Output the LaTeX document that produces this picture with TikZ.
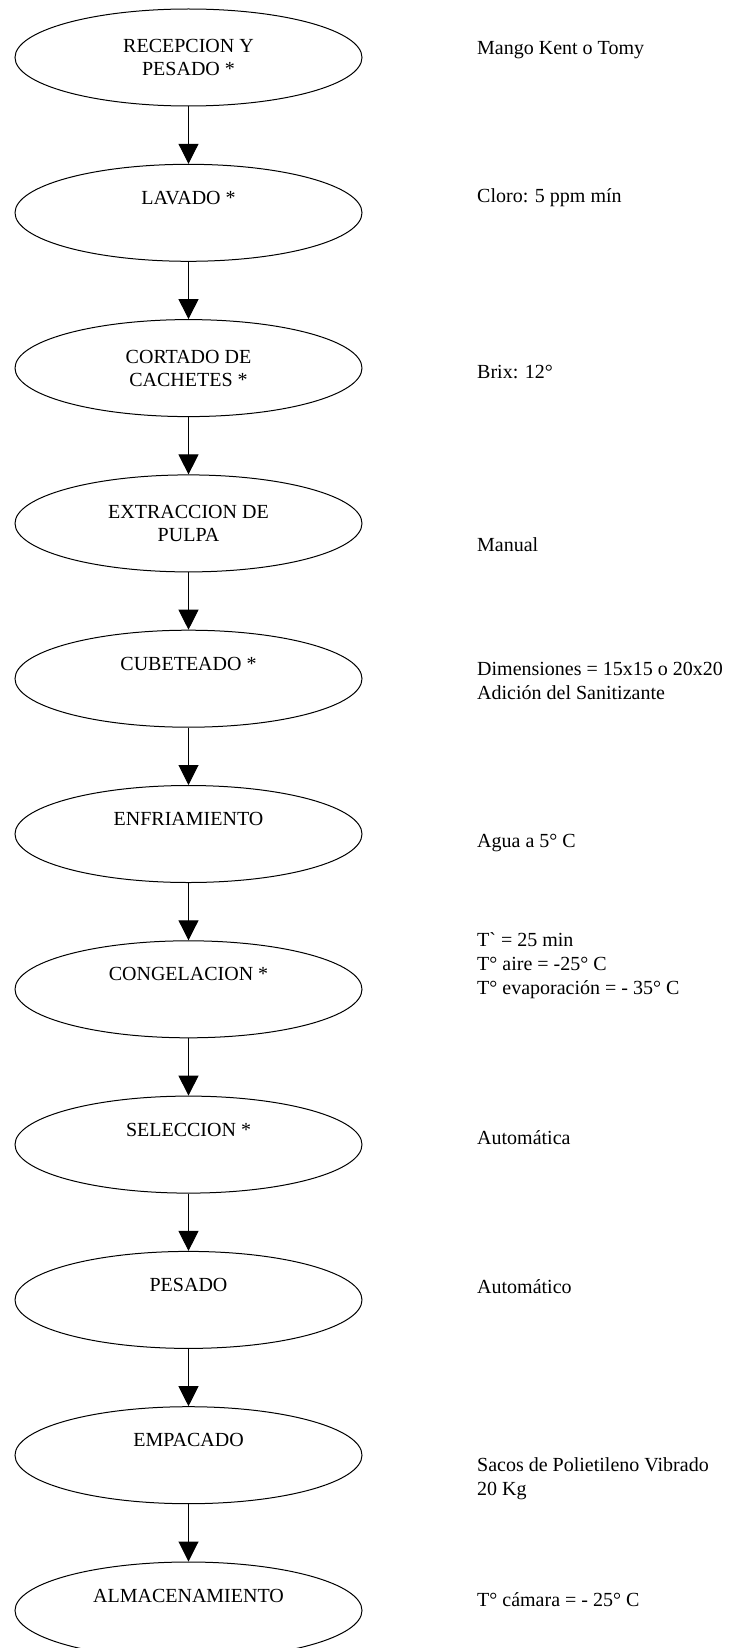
\documentclass[tikz,border=0pt]{standalone}
\usepackage{fontspec}
\setmainfont{Liberation Serif}
\usetikzlibrary{positioning,shapes.geometric,arrows.meta}

\begin{document}
\begin{tikzpicture}[x=1pt,y=1pt,
    node distance=57.3pt,
    stage/.style={ellipse,draw,line width=1pt,minimum width=347pt,minimum height=97pt,
        align=center,font=\fontsize{20}{23}\selectfont},
    note/.style={anchor=west,align=left,inner sep=0pt,font=\fontsize{20}{24}\selectfont},
    flow/.style={-{Triangle[width=20pt,length=20pt]},line width=1pt}]
\useasboundingbox (0,0) rectangle (744,-1648);

\node[stage] (recepcion) at (188.5,-57.5) {RECEPCION Y\\PESADO *};
\node[stage,below=of recepcion] (lavado) {LAVADO *\\\strut};
\node[stage,below=of lavado] (cortado) {CORTADO DE\\CACHETES *};
\node[stage,below=of cortado] (extraccion) {EXTRACCION DE\\PULPA};
\node[stage,below=of extraccion] (cubeteado) {CUBETEADO *\\\strut};
\node[stage,below=of cubeteado] (enfriamiento) {ENFRIAMIENTO\\\strut};
\node[stage,below=of enfriamiento] (congelacion) {CONGELACION *\\\strut};
\node[stage,below=of congelacion] (seleccion) {SELECCION *\\\strut};
\node[stage,below=of seleccion] (pesado) {PESADO\\\strut};
\node[stage,below=of pesado] (empacado) {EMPACADO\\\strut};
\node[stage,below=of empacado] (almacenamiento) {ALMACENAMIENTO\\\strut};

\foreach \from/\to in {recepcion/lavado,lavado/cortado,cortado/extraccion,
    extraccion/cubeteado,cubeteado/enfriamiento,enfriamiento/congelacion,
    congelacion/seleccion,seleccion/pesado,pesado/empacado,empacado/almacenamiento}
    \draw[flow] (\from.south) -- (\to.north);

\node[note] (variedad) at (477,-50) {Mango Kent o Tomy};
\node[note] (cloro) at (477,-198) {Cloro: 5 ppm mín};
\node[note] (brix) at (477,-372) {Brix: 12°};
\node[note] (manual) at (477,-545) {Manual};
\node[note] (dimensiones) at (477,-680.5) {Dimensiones = 15x15 o 20x20\\Adición del Sanitizante};
\node[note] (agua) at (477,-843) {Agua a 5° C};
\node[note] (tiempos) at (477,-966) {T\textasciigrave{} = 25 min\\T° aire = -25° C\\T° evaporación = - 35° C};
\node[note] (automatica) at (477,-1138) {Automática};
\node[note] (automatico) at (477,-1287) {Automático};
\node[note] (sacos) at (477,-1479) {Sacos de Polietileno Vibrado\\20 Kg};
\node[note] (camara) at (477,-1600) {T° cámara = - 25° C};
\end{tikzpicture}
\end{document}
